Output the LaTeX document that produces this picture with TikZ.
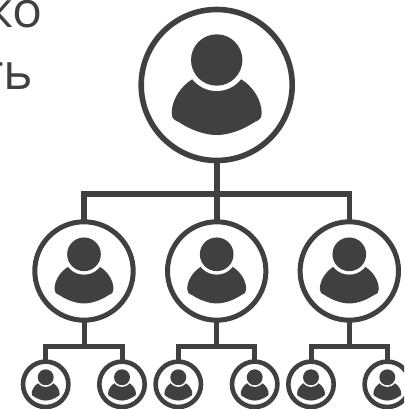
\documentclass[tikz,border=0pt]{standalone}
\usepackage{fontspec}
\setmainfont{Open Sans}
\definecolor{ink}{HTML}{404040}
\tikzset{
  every picture/.style={x=1pt,y=-1pt},
  ring/.style={circle,draw=ink,inner sep=0pt,outer sep=0pt},
  ringtop/.style={ring,line width=5.6pt,minimum size=151pt},
  ringmid/.style={ring,line width=5pt,minimum size=98.4pt},
  ringlow/.style={ring,line width=4.6pt,minimum size=45.4pt},
  wire/.style={draw=ink,line cap=butt,line join=miter},
  wiretop/.style={wire,line width=5.6pt},
  wirelow/.style={wire,line width=5pt},
  lettering/.style={text=ink,font=\fontsize{50}{50}\selectfont,inner sep=0pt,anchor=base east},
  person/.pic={
    \fill[ink] (-24,19) .. controls (-36,26) and (-45,40) .. (-45,53)
      .. controls (-45,58) and (-43,60) .. (-38,62)
      .. controls (-26,70) and (-12,75) .. (0,75)
      .. controls (12,75) and (26,70) .. (38,62)
      .. controls (43,60) and (45,58) .. (45,53)
      .. controls (45,40) and (36,26) .. (24,19) -- (0,10) -- cycle;
    \fill[white] (0,0) circle[radius=31];
    \fill[ink] (0,0) circle[radius=25.7];
  }
}
\begin{document}
\begin{tikzpicture}
\useasboundingbox (0,0) rectangle (404,409);
\clip (0,0) rectangle (404,409);
\node[lettering] (lineone) at (42.5,27.5) {ко};
\node[lettering] (linetwo) at (33.5,90) {ть};
\node[ringtop] (top) at (216.7,85) {};
\node[ringmid] (midA) at (84,271) {};
\node[ringmid] (midB) at (216.7,271) {};
\node[ringmid] (midC) at (349.3,271) {};
\node[ringlow] (lowA) at (45.7,384.3) {};
\node[ringlow] (lowB) at (122,384.3) {};
\node[ringlow] (lowC) at (178.3,384.3) {};
\node[ringlow] (lowD) at (254.7,384.3) {};
\node[ringlow] (lowE) at (311,384.3) {};
\node[ringlow] (lowF) at (387.3,384.3) {};
\pic at (216.7,60) {person};
\pic[scale=.655] at (84,254.3) {person};
\pic[scale=.655] at (216.7,254.3) {person};
\pic[scale=.655] at (349.3,254.3) {person};
\pic[scale=.31] at (45.7,377.3) {person};
\pic[scale=.31] at (122,377.3) {person};
\pic[scale=.31] at (178.3,377.3) {person};
\pic[scale=.31] at (254.7,377.3) {person};
\pic[scale=.31] at (311,377.3) {person};
\pic[scale=.31] at (387.3,377.3) {person};
\coordinate (busT) at (216.7,194);
\coordinate (busA) at (84,346.7);
\coordinate (busB) at (216.7,346.7);
\coordinate (busC) at (349.3,346.7);
\draw[wiretop] (top.south) -- (midB.north);
\draw[wiretop] (midA.north) |- (busT) -| (midC.north);
\draw[wirelow] (midA.south) -- (busA);
\draw[wirelow] (midB.south) -- (busB);
\draw[wirelow] (midC.south) -- (busC);
\draw[wirelow] (lowA.north) |- (busA) -| (lowB.north);
\draw[wirelow] (lowC.north) |- (busB) -| (lowD.north);
\draw[wirelow] (lowE.north) |- (busC) -| (lowF.north);
\end{tikzpicture}
\end{document}
